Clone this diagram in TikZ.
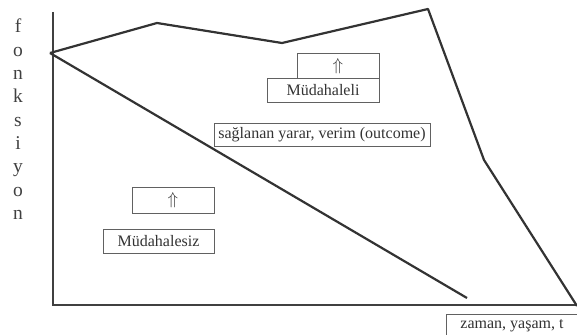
\documentclass[tikz,border=0pt]{standalone}
\usepackage{fontspec}
\setmainfont{Liberation Serif}
\begin{document}
\begin{tikzpicture}[x=1pt,y=-1pt,
  curve/.style={line width=2.2pt, draw=black!80, line join=round},
  axis/.style={line width=2.4pt, draw=black!75},
  tag/.style={draw=black!62, line width=0.7pt, inner sep=0pt, fill=white,
    font=\fontsize{16}{18}\selectfont, text=black!80},
  yl/.style={font=\fontsize{19.5}{20}\selectfont, text=black!75, inner sep=0pt, anchor=base}]
\useasboundingbox (0,0) rectangle (577,334);

% axes
\coordinate (ytop) at (53,12);
\coordinate (orig) at (53,305);
\coordinate (xend) at (577,305);
\draw[axis] (ytop) -- (orig) -- (xend);

% curve with intervention
\coordinate (s) at (50,53);
\coordinate (p1) at (157,23);
\coordinate (p2) at (282,43);
\coordinate (p3) at (428,9);
\coordinate (p4) at (484,160);
\coordinate (p5) at (577,306);
\draw[curve] (s) -- (p1) -- (p2) -- (p3) -- (p4) -- (p5);

% curve without intervention
\coordinate (q) at (467,298);
\draw[curve] (s) -- (q);

% labels
\node[tag, minimum width=82pt, minimum height=26pt] (upA) at (338,66) {$\Uparrow$};
\node[tag, minimum width=112pt, minimum height=24pt] (mA) at (323,90) {Müdahaleli};
\node[tag, minimum width=216pt, minimum height=23pt] (out) at (322,134.5) {sağlanan yarar, verim (outcome)};
\node[tag, minimum width=82pt, minimum height=26pt] (upB) at (173,200) {$\Uparrow$};
\node[tag, minimum width=111pt, minimum height=24pt] (mB) at (158.5,241) {Müdahalesiz};
\node[tag, minimum width=132pt, minimum height=24pt] (tx) at (512,326) {zaman, yaşam, t};

% vertical axis title
\foreach \c [count=\i] in {f,o,n,k,s,i,y,o,n}
  \node[yl] (y\i) at (18,{33+23.3*(\i-1)}) {\c};
\end{tikzpicture}
\end{document}
